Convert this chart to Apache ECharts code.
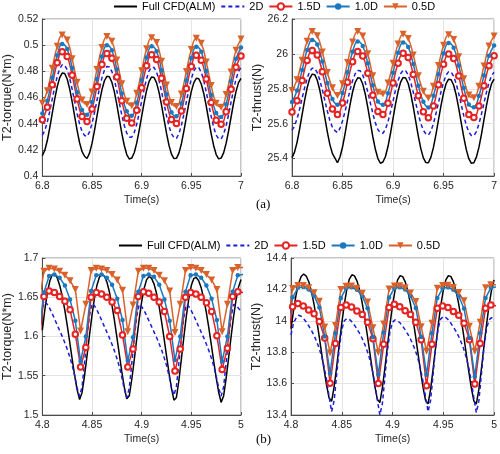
<!DOCTYPE html>
<html><head><meta charset="utf-8">
<script src="https://cdn.jsdelivr.net/npm/echarts@6/dist/echarts.min.js"></script>
<style>html,body{margin:0;padding:0;background:#fff}#c{width:500px;height:454px}</style>
</head><body><div id="c"></div>
<script>
const seriesNames = ['Full CFD(ALM)', '2D', '1.5D', '1.0D', '0.5D'];

// ---- time samples ----
const tTopFine = [6.8,6.8025,6.805,6.8075,6.81,6.8125,6.815,6.8175,6.82,6.8225,6.825,6.8275,6.83,6.8325,6.835,6.8375,6.84,6.8425,6.845,6.8475,6.85,6.8525,6.855,6.8575,6.86,6.8625,6.865,6.8675,6.87,6.8725,6.875,6.8775,6.88,6.8825,6.885,6.8875,6.89,6.8925,6.895,6.8975,6.9,6.9025,6.905,6.9075,6.91,6.9125,6.915,6.9175,6.92,6.9225,6.925,6.9275,6.93,6.9325,6.935,6.9375,6.94,6.9425,6.945,6.9475,6.95,6.9525,6.955,6.9575,6.96,6.9625,6.965,6.9675,6.97,6.9725,6.975,6.9775,6.98,6.9825,6.985,6.9875,6.99,6.9925,6.995,6.9975,7.0];
const tTopMk = [6.8,6.805,6.81,6.815,6.82,6.825,6.83,6.835,6.84,6.845,6.85,6.855,6.86,6.865,6.87,6.875,6.88,6.885,6.89,6.895,6.9,6.905,6.91,6.915,6.92,6.925,6.93,6.935,6.94,6.945,6.95,6.955,6.96,6.965,6.97,6.975,6.98,6.985,6.99,6.995,7.0];
const tBotFine = [4.8,4.8025,4.805,4.8075,4.81,4.8125,4.815,4.8175,4.82,4.8225,4.825,4.8275,4.83,4.8325,4.835,4.8375,4.84,4.8425,4.845,4.8475,4.85,4.8525,4.855,4.8575,4.86,4.8625,4.865,4.8675,4.87,4.8725,4.875,4.8775,4.88,4.8825,4.885,4.8875,4.89,4.8925,4.895,4.8975,4.9,4.9025,4.905,4.9075,4.91,4.9125,4.915,4.9175,4.92,4.9225,4.925,4.9275,4.93,4.9325,4.935,4.9375,4.94,4.9425,4.945,4.9475,4.95,4.9525,4.955,4.9575,4.96,4.9625,4.965,4.9675,4.97,4.9725,4.975,4.9775,4.98,4.9825,4.985,4.9875,4.99,4.9925,4.995,4.9975,5.0];
const tBotMk = [4.7963,4.8016,4.8068,4.8121,4.8174,4.8227,4.8279,4.8332,4.8385,4.8438,4.8491,4.8543,4.8596,4.8649,4.8702,4.8754,4.8807,4.886,4.8913,4.8966,4.9018,4.9071,4.9124,4.9177,4.9229,4.9282,4.9335,4.9388,4.9441,4.9493,4.9546,4.9599,4.9652,4.9704,4.9757,4.981,4.9863,4.9916,4.9968,5.0021];

// ---- (a) torque ----
const aTorqueCFD = [0.4155,0.4197,0.4271,0.4370,0.4480,0.4589,0.4684,0.4752,0.4787,0.4783,0.4741,0.4667,0.4568,0.4458,0.4349,0.4254,0.4186,0.4151,
0.4134,0.4175,0.4249,0.4347,0.4457,0.4566,0.4659,0.4728,0.4762,0.4758,0.4717,0.4643,0.4545,0.4435,0.4326,0.4233,0.4164,0.4130,
0.4137,0.4178,0.4251,0.4348,0.4456,0.4563,0.4656,0.4723,0.4757,0.4753,0.4712,0.4639,0.4542,0.4434,0.4327,0.4234,0.4167,0.4133,
0.4135,0.4175,0.4247,0.4343,0.4450,0.4556,0.4647,0.4714,0.4747,0.4743,0.4703,0.4631,0.4535,0.4428,0.4322,0.4231,0.4164,0.4131,
0.4137,0.4177,0.4249,0.4344,0.4451,0.4556,0.4647,0.4714,0.4747];
const aTorque2D = [0.4313,0.4348,0.4412,0.4496,0.4590,0.4682,0.4763,0.4821,0.4850,0.4847,0.4812,0.4748,0.4664,0.4570,0.4478,0.4397,0.4339,0.4310,
0.4302,0.4337,0.4400,0.4484,0.4578,0.4670,0.4750,0.4808,0.4837,0.4834,0.4799,0.4736,0.4652,0.4558,0.4466,0.4386,0.4328,0.4299,
0.4297,0.4332,0.4395,0.4479,0.4573,0.4665,0.4745,0.4803,0.4832,0.4829,0.4794,0.4731,0.4647,0.4553,0.4461,0.4381,0.4323,0.4294,
0.4287,0.4323,0.4387,0.4472,0.4568,0.4662,0.4743,0.4803,0.4832,0.4829,0.4793,0.4729,0.4644,0.4548,0.4454,0.4373,0.4313,0.4284,
0.4284,0.4320,0.4384,0.4469,0.4565,0.4659,0.4740,0.4800,0.4829];
const aTorque15 = [0.4429,0.4525,0.4697,0.4865,0.4950,0.4913,0.4770,0.4589,0.4454,
0.4416,0.4512,0.4684,0.4852,0.4937,0.4900,0.4757,0.4576,0.4441,
0.4406,0.4502,0.4674,0.4842,0.4927,0.4890,0.4747,0.4566,0.4431,
0.4401,0.4497,0.4669,0.4837,0.4922,0.4885,0.4742,0.4561,0.4426,
0.4396,0.4492,0.4664,0.4832,0.4917];
const aTorque10 = [0.4478,0.4576,0.4751,0.4923,0.5009,0.4971,0.4825,0.4641,0.4504,
0.4468,0.4566,0.4741,0.4913,0.4999,0.4961,0.4815,0.4631,0.4494,
0.4461,0.4559,0.4734,0.4906,0.4992,0.4954,0.4808,0.4624,0.4487,
0.4456,0.4554,0.4729,0.4901,0.4987,0.4949,0.4803,0.4619,0.4482,
0.4451,0.4549,0.4724,0.4896,0.4982];
const aTorque05 = [0.4556,0.4652,0.4824,0.4992,0.5077,0.5040,0.4897,0.4716,0.4581,
0.4546,0.4642,0.4814,0.4982,0.5067,0.5030,0.4887,0.4706,0.4571,
0.4536,0.4632,0.4804,0.4972,0.5057,0.5020,0.4877,0.4696,0.4561,
0.4531,0.4627,0.4799,0.4967,0.5052,0.5015,0.4872,0.4691,0.4556,
0.4526,0.4622,0.4794,0.4962,0.5047];

// ---- (a) thrust ----
const aThrustCFD = [25.405,25.437,25.493,25.568,25.652,25.734,25.806,25.858,25.884,25.881,25.849,25.793,25.718,25.634,25.552,25.480,25.428,25.402,
25.376,25.409,25.466,25.542,25.627,25.711,25.783,25.836,25.863,25.860,25.827,25.770,25.694,25.609,25.525,25.453,25.400,25.373,
25.380,25.412,25.469,25.545,25.630,25.713,25.785,25.838,25.865,25.862,25.830,25.773,25.697,25.612,25.529,25.457,25.404,25.377,
25.376,25.408,25.464,25.539,25.623,25.705,25.777,25.829,25.855,25.852,25.820,25.764,25.689,25.605,25.523,25.451,25.399,25.373,
25.376,25.408,25.464,25.539,25.623,25.705,25.777,25.829,25.855];
const aThrust2D = [25.562,25.586,25.628,25.683,25.745,25.807,25.860,25.899,25.918,25.916,25.892,25.850,25.795,25.733,25.671,25.618,25.579,25.560,
25.549,25.573,25.615,25.670,25.732,25.794,25.847,25.886,25.905,25.903,25.879,25.837,25.782,25.720,25.658,25.605,25.566,25.547,
25.545,25.568,25.611,25.667,25.730,25.793,25.847,25.886,25.906,25.903,25.880,25.837,25.781,25.718,25.655,25.601,25.562,25.542,
25.534,25.558,25.601,25.658,25.721,25.784,25.839,25.878,25.898,25.896,25.872,25.829,25.772,25.709,25.646,25.591,25.552,25.532,
25.531,25.555,25.598,25.655,25.718,25.781,25.836,25.875,25.895];
const aThrust15 = [25.667,25.732,25.848,25.962,26.019,25.994,25.897,25.775,25.684,
25.653,25.719,25.838,25.955,26.014,25.988,25.889,25.763,25.670,
25.652,25.717,25.833,25.947,26.004,25.979,25.882,25.760,25.669,
25.634,25.701,25.823,25.940,26.000,25.974,25.873,25.746,25.652,
25.636,25.701,25.818,25.932,25.990];
const aThrust10 = [25.724,25.790,25.907,26.022,26.080,26.054,25.957,25.833,25.741,
25.709,25.776,25.895,26.012,26.071,26.045,25.946,25.820,25.727,
25.709,25.775,25.892,26.007,26.065,26.039,25.942,25.818,25.726,
25.692,25.760,25.883,26.002,26.062,26.035,25.934,25.805,25.710,
25.694,25.759,25.876,25.990,26.048];
const aThrust05 = [25.790,25.852,25.964,26.073,26.128,26.104,26.011,25.893,25.806,
25.762,25.829,25.951,26.068,26.128,26.102,26.001,25.874,25.780,
25.770,25.833,25.946,26.056,26.112,26.088,25.994,25.875,25.786,
25.747,25.814,25.933,26.050,26.109,26.083,25.984,25.858,25.765,
25.749,25.814,25.931,26.045,26.103];

// ---- (b) torque ----
const bTorqueCFD = [1.6081,1.6338,1.6553,1.6706,1.6788,
1.6794,1.6746,1.6651,1.6516,1.6345,1.6148,1.5934,1.5715,1.5506,1.5323,1.5197,
1.5287,1.5502,1.5757,1.6021,1.6272,1.6488,1.6654,1.6759,
1.6796,1.6770,1.6693,1.6570,1.6407,1.6212,1.5996,1.5771,1.5552,1.5354,1.5206,
1.5244,1.5449,1.5700,1.5966,1.6221,1.6444,1.6615,1.6725,
1.6766,1.6741,1.6667,1.6547,1.6386,1.6194,1.5980,1.5757,1.5538,1.5340,1.5189,
1.5224,1.5443,1.5714,1.5997,1.6263,1.6487,1.6652,1.6740,
1.6752,1.6708,1.6617,1.6484,1.6315,1.6119,1.5905,1.5686,1.5475,1.5290,1.5161,
1.5243,1.5463,1.5725,1.5995,1.6249,1.6466,1.6629,1.6725];
const bTorque2D = [1.636,1.644,1.641,1.6356,1.629,1.6218,1.6146,1.6074,1.6002,1.5924,1.584,1.5744,1.5636,1.5504,1.5348,1.524,
1.536,1.5672,1.5996,1.6272,1.642,1.639,1.6336,1.627,1.6198,1.6126,1.6054,1.5982,1.5904,1.582,1.5724,1.5616,1.5484,1.5328,1.522,
1.534,1.5652,1.5976,1.6252,1.641,1.6381,1.6329,1.6265,1.6195,1.6126,1.6056,1.5987,1.5911,1.583,1.5737,1.5633,1.5505,1.5354,1.525,
1.5366,1.5668,1.5981,1.6248,1.641,1.6381,1.6328,1.6264,1.6194,1.6123,1.6053,1.5983,1.5907,1.5825,1.5731,1.5626,1.5497,1.5345,1.524,
1.5357,1.5661,1.5977,1.6246,1.641,1.6395,1.636,1.632];
const bTorque15 = [1.585,1.651,1.658,1.656,1.651,1.645,1.634,1.603,1.561,
1.586,1.650,1.656,1.654,1.650,1.644,1.633,1.602,1.561,
1.584,1.651,1.657,1.655,1.650,1.644,1.632,1.600,1.556,
1.584,1.650,1.656,1.654,1.650,1.643,1.632,1.601,1.558,
1.585,1.651,1.657,1.656];
const bTorque10 = [1.598,1.656,1.677,1.679,1.675,1.665,1.647,1.620,1.568,
1.600,1.658,1.678,1.679,1.675,1.666,1.648,1.621,1.569,
1.599,1.657,1.677,1.679,1.676,1.666,1.647,1.620,1.570,
1.600,1.657,1.678,1.679,1.675,1.665,1.648,1.621,1.568,
1.600,1.657,1.678,1.679];
const bTorque05 = [1.640,1.683,1.687,1.686,1.683,1.678,1.671,1.660,1.607,
1.641,1.684,1.687,1.686,1.684,1.679,1.672,1.659,1.606,
1.640,1.683,1.687,1.687,1.684,1.678,1.671,1.658,1.605,
1.641,1.684,1.688,1.687,1.684,1.679,1.672,1.660,1.606,
1.641,1.684,1.688,1.688];

// ---- (b) thrust ----
const bThrustCFD = [13.950,14.065,14.165,14.238,14.282,14.298,
14.285,14.249,14.190,14.111,14.017,13.912,13.801,13.692,13.591,13.509,
13.487,13.580,13.708,13.847,13.984,14.105,14.202,14.266,14.293,
14.286,14.253,14.196,14.118,14.023,13.916,13.803,13.690,13.586,13.501,
13.479,13.572,13.701,13.840,13.977,14.099,14.196,14.261,14.288,
14.281,14.248,14.191,14.112,14.017,13.910,13.796,13.683,13.578,13.493,
13.471,13.565,13.695,13.836,13.974,14.097,14.196,14.261,14.288,
14.281,14.248,14.190,14.112,14.017,13.909,13.795,13.681,13.576,13.491,
13.469,13.563,13.693,13.835,13.973,14.097,14.195,14.261];
const bThrust2D = [13.91,13.986,14.017,14.035,14.029,14.013,13.992,13.967,13.940,13.909,13.872,13.829,13.777,13.710,13.624,13.519,13.421,
13.492,13.659,13.825,13.944,14.000,14.015,14.009,13.993,13.972,13.947,13.920,13.889,13.852,13.809,13.757,13.689,13.603,13.498,13.400,
13.473,13.642,13.812,13.933,13.991,14.006,14.000,13.986,13.965,13.942,13.915,13.886,13.851,13.810,13.760,13.696,13.614,13.515,13.421,
13.494,13.663,13.833,13.954,14.012,14.027,14.021,14.006,13.984,13.960,13.932,13.902,13.865,13.822,13.770,13.703,13.617,13.513,13.415,
13.488,13.657,13.826,13.947,14.005,14.020,14.014];
const bThrust15 = [13.86,14.09,14.11,14.095,14.068,14.045,13.995,13.89,13.602,
13.855,14.085,14.10,14.088,14.062,14.04,13.99,13.885,13.60,
13.85,14.085,14.105,14.09,14.064,14.04,13.99,13.88,13.586,
13.85,14.08,14.095,14.085,14.06,14.036,13.985,13.88,13.597,
13.855,14.08,14.10,14.095];
const bThrust10 = [13.93,14.15,14.21,14.215,14.20,14.16,14.085,13.90,13.665,
13.92,14.145,14.207,14.213,14.198,14.157,14.08,13.895,13.657,
13.925,14.148,14.208,14.214,14.2,14.158,14.082,13.897,13.657,
13.92,14.145,14.207,14.213,14.198,14.156,14.078,13.89,13.646,
13.92,14.145,14.21,14.215];
const bThrust05 = [13.98,14.205,14.225,14.225,14.21,14.178,14.125,13.96,13.795,
13.97,14.20,14.22,14.222,14.207,14.175,14.12,13.955,13.798,
13.98,14.203,14.222,14.223,14.21,14.177,14.123,13.962,13.806,
13.985,14.207,14.225,14.226,14.212,14.18,14.127,13.965,13.806,
13.99,14.21,14.23,14.23];

// ---- axis ticks ----
const xTicksTop = [6.8, 7.0, 0.05];
const xTicksBot = [4.8, 5.0, 0.05];

const FONT = 'Liberation Sans';
const AX = '#4d4d4d';
const COLORS = {cfd: '#000000', d2: '#1c1cd6', d15: '#e62222', d10: '#1a78bf', d05: '#d9622b'};

function pairs(t, v) { return t.map((x, i) => [x, v[i]]); }

function xAxis(g, r) {
  return {type: 'value', gridIndex: g, min: r[0], max: r[1], interval: r[2],
    name: 'Time(s)', nameLocation: 'middle', nameGap: 19,
    nameTextStyle: {fontFamily: FONT, fontSize: 10.5, color: '#262626'},
    axisLine: {show: true, onZero: false, lineStyle: {color: AX}},
    axisTick: {show: true, inside: true, length: 3, lineStyle: {color: AX}},
    axisLabel: {fontFamily: FONT, fontSize: 10.5, color: '#262626', margin: 5},
    splitLine: {show: true, lineStyle: {color: '#e4e4e4'}}};
}
function yAxis(g, name, min, max, interval, gap) {
  const a = {type: 'value', gridIndex: g, min: min, max: max,
    name: name, nameLocation: 'middle', nameGap: gap,
    nameTextStyle: {fontFamily: FONT, fontSize: 12.5, color: '#262626'},
    axisLine: {show: true, onZero: false, lineStyle: {color: AX}},
    axisTick: {show: true, inside: true, length: 3, lineStyle: {color: AX}},
    axisLabel: {fontFamily: FONT, fontSize: 10.5, color: '#262626', margin: 4, showMinLabel: interval ? true : false},
    splitLine: {show: true, lineStyle: {color: '#e4e4e4'}}};
  if (interval) a.interval = interval; else a.splitNumber = 5;
  return a;
}

function mkSeries(g, t5, v5) {
  const out = [];
  out.push({name: seriesNames[0], type: 'line', xAxisIndex: g, yAxisIndex: g, data: pairs(t5[0], v5[0]),
    symbol: 'none', lineStyle: {color: COLORS.cfd, width: 1.5}, itemStyle: {color: COLORS.cfd}});
  out.push({name: seriesNames[1], type: 'line', xAxisIndex: g, yAxisIndex: g, data: pairs(t5[1], v5[1]),
    symbol: 'none', lineStyle: {color: COLORS.d2, width: 1.5, type: [4, 3]}, itemStyle: {color: COLORS.d2}});
  const sm = g < 2 ? 0.45 : false;
  out.push({name: seriesNames[2], type: 'line', xAxisIndex: g, yAxisIndex: g, data: pairs(t5[2], v5[2]), smooth: sm,
    symbol: 'emptyCircle', symbolSize: 5.5, showAllSymbol: true,
    lineStyle: {color: COLORS.d15, width: 1.5}, itemStyle: {color: COLORS.d15, borderColor: COLORS.d15, borderWidth: 1.2}});
  out.push({name: seriesNames[3], type: 'line', xAxisIndex: g, yAxisIndex: g, data: pairs(t5[3], v5[3]), smooth: sm,
    symbol: 'circle', symbolSize: 4.5, showAllSymbol: true,
    lineStyle: {color: COLORS.d10, width: 1.5}, itemStyle: {color: COLORS.d10}});
  out.push({name: seriesNames[4], type: 'line', xAxisIndex: g, yAxisIndex: g, data: pairs(t5[4], v5[4]), smooth: sm,
    symbol: 'triangle', symbolRotate: 180, symbolSize: 7, showAllSymbol: true,
    lineStyle: {color: COLORS.d05, width: 1.5}, itemStyle: {color: COLORS.d05}});
  return out;
}

const topT = [tTopFine, tTopFine, tTopMk, tTopMk, tTopMk];
const botT = [tBotFine, tBotFine, tBotMk, tBotMk, tBotMk];

// legend entries: hide the auto symbol on the two plain lines
const legendData = seriesNames.map((n, i) => i < 2 ? {name: n, itemStyle: {opacity: 0}} : {name: n});
const legendBase = {itemWidth: 23, itemHeight: 8, itemGap: 5, padding: 0, data: legendData,
  textStyle: {fontFamily: FONT, fontSize: 11, color: '#000'}, selectedMode: false};

const option = {
  animation: false,
  backgroundColor: '#fff',
  textStyle: {fontFamily: FONT},
  legend: [Object.assign({top: 1, left: 113}, legendBase), Object.assign({top: 240, left: 118}, legendBase)],
  grid: [
    {left: 35, top: 19, width: 206, height: 157, show: true, borderColor: '#8c8c8c', borderWidth: 1},
    {left: 292, top: 19, width: 206, height: 157, show: true, borderColor: '#8c8c8c', borderWidth: 1},
    {left: 35, top: 258, width: 206, height: 157, show: true, borderColor: '#8c8c8c', borderWidth: 1},
    {left: 291, top: 258, width: 207, height: 157, show: true, borderColor: '#8c8c8c', borderWidth: 1}
  ],
  xAxis: [xAxis(0, xTicksTop), xAxis(1, xTicksTop), xAxis(2, xTicksBot), xAxis(3, xTicksBot)],
  yAxis: [
    yAxis(0, 'T2-torque(N*m)', 0.4, 0.52, 0.02, 20),
    yAxis(1, 'T2-thrust(N)', 25.3, 26.2, null, 25),
    yAxis(2, 'T2-torque(N*m)', 1.5, 1.7, 0.05, 20),
    yAxis(3, 'T2-thrust(N)', 13.4, 14.4, 0.2, 22)
  ],
  graphic: [
    {type: 'text', left: 256, top: 198, style: {text: '(a)', font: '13px "Liberation Serif"', fill: '#000'}},
    {type: 'text', left: 256, top: 433, style: {text: '(b)', font: '13px "Liberation Serif"', fill: '#000'}}
  ],
  series: [].concat(
    mkSeries(0, topT, [aTorqueCFD, aTorque2D, aTorque15, aTorque10, aTorque05]),
    mkSeries(1, topT, [aThrustCFD, aThrust2D, aThrust15, aThrust10, aThrust05]),
    mkSeries(2, botT, [bTorqueCFD, bTorque2D, bTorque15, bTorque10, bTorque05]),
    mkSeries(3, botT, [bThrustCFD, bThrust2D, bThrust15, bThrust10, bThrust05])
  )
};
const chart = echarts.init(document.getElementById('c'), null, {renderer: 'canvas'});
chart.setOption(option);
</script></body></html>
